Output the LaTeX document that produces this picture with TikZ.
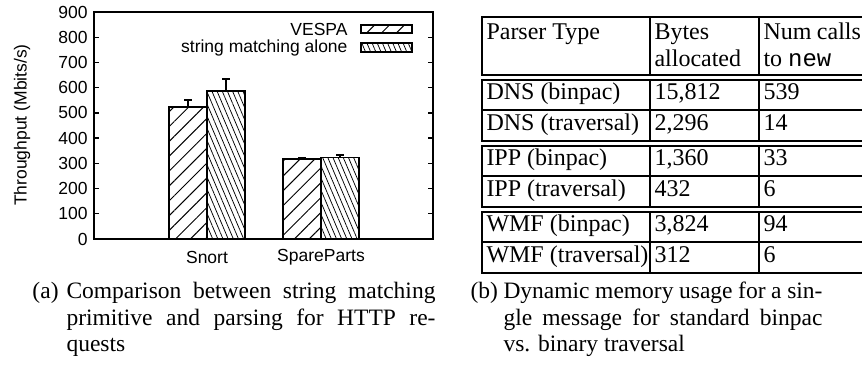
\documentclass[tikz,border=0pt]{standalone}
\usepackage{fontspec}
\setmainfont{Liberation Serif}
\setsansfont{Liberation Sans}
\setmonofont{Liberation Mono}
\usetikzlibrary{patterns.meta}

\begin{document}
\begin{tikzpicture}[x=0.4pt, y=-0.4pt,
    axisfont/.style={font=\sffamily\fontsize{7}{8}\selectfont, inner sep=0pt},
    cell/.style={font=\fontsize{9.6}{11}\selectfont, anchor=base west, inner sep=0pt},
    captext/.style={font=\fontsize{9.4}{10.6}\selectfont, anchor=base west, inner sep=0pt},
    vespa/.style={pattern={Lines[angle=45,distance=4.2pt,line width=0.4pt]}},
    strmatch/.style={pattern={Lines[angle=113,distance=1.9pt,line width=0.3pt]}},
    barbox/.style={draw, line width=0.6pt},
    errbar/.style={line width=0.8pt},
    rule/.style={line width=0.8pt}]
    \useasboundingbox (0,0) rectangle (862,370);

    % (a) throughput chart
    \draw[line width=0.6pt] (94,12) rectangle (433,239);
    \foreach \v in {0,100,...,900} {
        \draw[line width=0.5pt] (94,{239-0.2522*\v}) -- ++(5,0);
        \draw[line width=0.5pt] (433,{239-0.2522*\v}) -- ++(-5,0);
        \node[axisfont, anchor=east] (ytick\v) at (88,{239-0.2522*\v}) {\v};
    }
    \node[axisfont, rotate=90] (ytitle) at (22,125) {Throughput (Mbits/s)};

    % bars with error bars
    \foreach \x/\v/\e/\s [count=\i] in {169/523/551/vespa, 207/587/634/strmatch,
                                        283/317/320/vespa, 321/323/335/strmatch} {
        \draw[barbox, \s] (\x,239) rectangle ({\x+38},{239-0.2522*\v});
        \draw[errbar] ({\x+19},{239-0.2522*\v}) -- ({\x+19},{239-0.2522*\e}) coordinate (err\i);
        \draw[errbar] ([xshift=-1.5pt]err\i) -- ([xshift=1.5pt]err\i);
    }
    \node[axisfont] (snort) at (207,257) {Snort};
    \node[axisfont] (spare) at (321,257) {SpareParts};

    % legend
    \node[axisfont, anchor=east] (legvespa) at (348,29) {VESPA};
    \draw[barbox, vespa] (361,25) rectangle (412,33);
    \node[axisfont, anchor=east] (legstr) at (348,48) {string matching alone};
    \draw[barbox, strmatch] (361,43) rectangle (412,52);

    % (b) memory table
    \foreach \ya/\yb in {17/75, 80/141, 146/207, 212/273} {
        \draw[rule] (482,\ya) rectangle (866,\yb);
        \draw[rule] (650,\ya) -- (650,\yb);
        \draw[rule] (759,\ya) -- (759,\yb);
    }
    \foreach \y in {110.5,176.5,242.5}
        \draw[rule] (482,\y) -- (866,\y);

    \node[cell] (hparser) at (486,40) {Parser Type};
    \node[cell] (hbytes) at (654,40) {Bytes};
    \node[cell] (halloc) at (654,67) {allocated};
    \node[cell] (hnum) at (763,40) {\makebox[39pt][s]{Num calls}};
    \node[cell] (hto) at (763,67) {to \texttt{new}};

    \foreach \y/\name/\bytes/\calls [count=\i] in {100/DNS (binpac)/{15,812}/539,
            130.5/DNS (traversal)/{2,296}/14, 166/IPP (binpac)/{1,360}/33,
            196.5/IPP (traversal)/432/6, 232/WMF (binpac)/{3,824}/94,
            262.5/WMF (traversal)/312/6} {
        \node[cell] (type\i) at (486,\y) {\name};
        \node[cell] (bytes\i) at (654,\y) {\bytes};
        \node[cell] (calls\i) at (763,\y) {\calls};
    }

    % captions
    \node[captext] (capa) at (32,299) {(a)};
    \node[captext] (capa1) at (66,299) {\makebox[147.6pt][s]{Comparison between string matching}};
    \node[captext] (capa2) at (66,325.5) {\makebox[147.6pt][s]{primitive and parsing for HTTP re-}};
    \node[captext] (capa3) at (66,352) {quests};
    \node[captext] (capb) at (470,299) {(b)};
    \node[captext] (capb1) at (503,299) {\makebox[127.6pt][s]{Dynamic memory usage for a sin-}};
    \node[captext] (capb2) at (503,325.5) {\makebox[127.6pt][s]{gle message for standard binpac}};
    \node[captext] (capb3) at (503,352) {vs. binary traversal};
\end{tikzpicture}
\end{document}
